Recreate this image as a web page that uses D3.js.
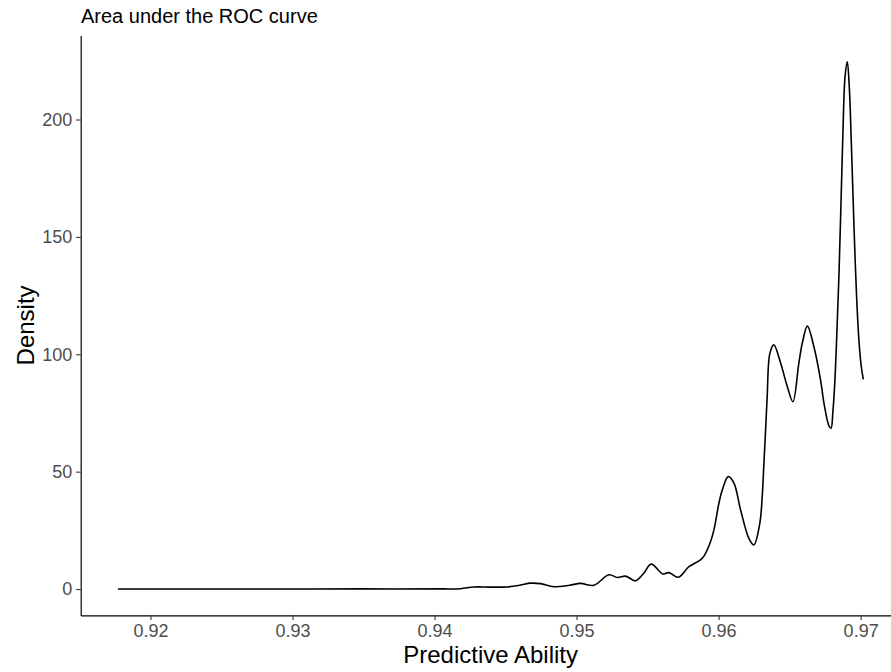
<!DOCTYPE html>
<html>
<head>
<meta charset="utf-8">
<script src="https://cdn.jsdelivr.net/npm/d3@7"></script>
<style>
  html, body { margin: 0; padding: 0; background: #fff; }
  svg { display: block; font-family: "Liberation Sans", Arial, Helvetica, sans-serif; }
</style>
</head>
<body>
<div id="chart"></div>
<script>
// density estimate of the AUC
const abilityX = [
  0.91771, 0.925, 0.93, 0.935, 0.9405, 0.94183, 0.94277, 0.9440, 0.94512, 0.94600,
  0.94676, 0.94746, 0.9484, 0.9495, 0.95028, 0.95122, 0.95228, 0.95287, 0.95345, 0.95415,
  0.95470, 0.95526, 0.95608, 0.9565, 0.95716, 0.95791, 0.95885, 0.95939, 0.95967, 0.96002,
  0.96026, 0.96068, 0.96108, 0.96155, 0.96213, 0.96248, 0.9629, 0.96307, 0.96319, 0.96331,
  0.96342, 0.96361, 0.96389, 0.96437, 0.96484, 0.96523, 0.96565, 0.96589, 0.96625, 0.96671,
  0.96718, 0.96742, 0.96777, 0.96792, 0.96804, 0.96818, 0.96832, 0.96848, 0.96862, 0.96876,
  0.96890, 0.96906, 0.96920, 0.96934, 0.96946, 0.96958, 0.96972, 0.96988, 0.97004, 0.97019
];
const densityY = [
  0, 0, 0, 0.05, 0.05, 0.15, 0.9, 0.8, 0.9, 1.6,
  2.5, 2.3, 1.0, 1.6, 2.4, 1.6, 6.1, 4.9, 5.5, 3.5,
  6.5, 10.6, 6.4, 7.0, 5.0, 9.5, 13.1, 19.5, 25.2, 36.5,
  42.2, 47.9, 45.1, 33.7, 21.6, 18.8, 28.0, 39.4, 53.6, 67.8,
  82, 100.4, 104, 96.2, 86.2, 79.8, 96.2, 104.7, 112, 103.2,
  89, 79.1, 69.5, 68.5, 75, 88, 108, 135, 165, 196,
  218, 224.6, 214, 191, 168, 146, 124, 106, 95, 89.3
];
const xTicks = [0.92, 0.93, 0.94, 0.95, 0.96, 0.97];
const yTicks = [0, 50, 100, 150, 200];

const W = 891, H = 672;
const panel = { left: 80.7, right: 900.6, top: 35.4, bottom: 615.4 };

const svg = d3.select('#chart').append('svg')
  .attr('width', W).attr('height', H);

// ggplot style 5% expansion
const xExt = d3.extent(abilityX);
const xPad = (xExt[1] - xExt[0]) * 0.05;
const yMax = d3.max(densityY);
const x = d3.scaleLinear().domain([xExt[0] - xPad, xExt[1] + xPad]).range([panel.left, panel.right]);
const y = d3.scaleLinear().domain([-yMax * 0.05, yMax * 1.05]).range([panel.bottom, panel.top]);

const pts = abilityX.map((v, i) => [v, densityY[i]]);

svg.append('path')
  .datum(pts)
  .attr('fill', 'none')
  .attr('stroke', '#000')
  .attr('stroke-width', 1.6)
  .attr('stroke-linejoin', 'round')
  .attr('d', d3.line().x(d => x(d[0])).y(d => y(d[1])).curve(d3.curveCatmullRom.alpha(0.5)));

const xAxis = svg.append('g')
  .attr('transform', 'translate(0,' + panel.bottom + ')')
  .call(d3.axisBottom(x).tickValues(xTicks).tickFormat(d3.format('.2f')).tickSize(4.5).tickPadding(4).tickSizeOuter(0));
const yAxis = svg.append('g')
  .attr('transform', 'translate(' + panel.left + ',0)')
  .call(d3.axisLeft(y).tickValues(yTicks).tickSize(4.5).tickPadding(4).tickSizeOuter(0));

[xAxis, yAxis].forEach(g => {
  g.select('.domain').attr('stroke', '#000').attr('stroke-width', 1.2);
  g.selectAll('.tick line').attr('stroke', '#333').attr('stroke-width', 1.1);
  g.selectAll('.tick text').attr('fill', '#4d4d4d').style('font-size', '18px')
    .style('font-family', '"Liberation Sans", Arial, Helvetica, sans-serif');
});

svg.append('text')
  .attr('x', 81).attr('y', 23)
  .style('font-size', '20px').attr('fill', '#000')
  .text('Area under the ROC curve');

svg.append('text')
  .attr('x', (panel.left + panel.right) / 2).attr('y', 663)
  .attr('text-anchor', 'middle')
  .style('font-size', '24px').attr('fill', '#000')
  .text('Predictive Ability');

svg.append('text')
  .attr('transform', 'translate(34,' + (panel.top + panel.bottom) / 2 + ') rotate(-90)')
  .attr('text-anchor', 'middle')
  .style('font-size', '24px').attr('fill', '#000')
  .text('Density');
</script>
</body>
</html>
